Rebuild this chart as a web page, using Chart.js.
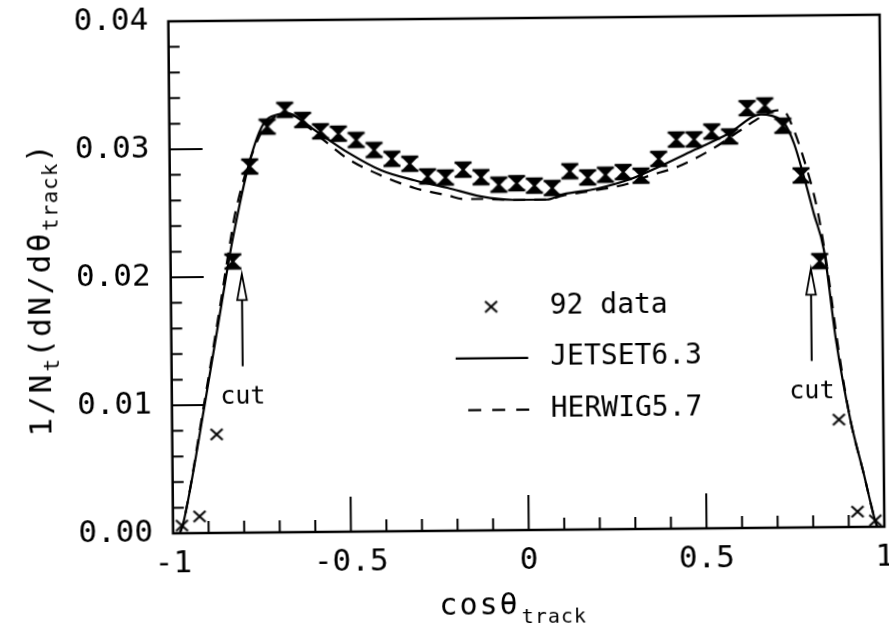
<!DOCTYPE html>
<html>
<head>
<meta charset="utf-8">
<script src="https://cdn.jsdelivr.net/npm/chart.js@4.4.1/dist/chart.umd.min.js"></script>
<style>
  html, body { margin: 0; padding: 0; background: #fff; overflow: hidden; }
  #wrap {
    position: absolute; left: 0; top: 0; width: 889px; height: 629px;
    transform: rotate(-0.535deg); transform-origin: 529.7px 274px;
  }
  canvas { display: block; }
</style>
</head>
<body>
<div id="wrap"><canvas id="c" width="889" height="629"></canvas></div>
<script>
// cos(theta_track) bin centres and measured 92 data
const cosBins = [
  -0.975, -0.925, -0.875, -0.825, -0.775, -0.725, -0.675, -0.625, -0.575, -0.525,
  -0.475, -0.425, -0.375, -0.325, -0.275, -0.225, -0.175, -0.125, -0.075, -0.025,
   0.025,  0.075,  0.125,  0.175,  0.225,  0.275,  0.325,  0.375,  0.425,  0.475,
   0.525,  0.575,  0.625,  0.675,  0.725,  0.775,  0.825,  0.875,  0.925,  0.975
];
const data92 = [
  0.0006, 0.0013, 0.0077, 0.0212, 0.0286, 0.0317, 0.0330, 0.0322, 0.0313, 0.0311,
  0.0306, 0.0298, 0.0291, 0.0287, 0.0277, 0.0276, 0.0282, 0.0276, 0.0270, 0.0271,
  0.0269, 0.0267, 0.0280, 0.0275, 0.0277, 0.0279, 0.0276, 0.0289, 0.0304, 0.0304,
  0.0310, 0.0306, 0.0328, 0.0330, 0.0314, 0.0275, 0.0208, 0.0084, 0.0012, 0.0005
];

// JETSET 6.3 prediction
const jetsetX = [
  -0.981, -0.971, -0.908, -0.859, -0.825, -0.776, -0.738, -0.701, -0.664, -0.617,
  -0.571, -0.497, -0.405, -0.312, -0.220, -0.127, -0.034, 0.059, 0.105, 0.198,
   0.291,  0.385,  0.478,  0.571,  0.664,  0.692,  0.729, 0.756, 0.783, 0.810,
   0.837,  0.869,  0.907,  0.943,  0.974,  0.980
];
const jetsetY = [
  0.0000, 0.0008, 0.0100, 0.0177, 0.0229, 0.0289, 0.0318, 0.0326, 0.0327, 0.0319,
  0.0310, 0.0296, 0.0282, 0.0274, 0.0268, 0.0261, 0.0258, 0.0258, 0.0262, 0.0266,
  0.0273, 0.0284, 0.0296, 0.0308, 0.0323, 0.0322, 0.0316, 0.0300, 0.0274, 0.0245,
  0.0217, 0.0146, 0.0084, 0.0042, 0.0005, 0.0000
];

// HERWIG 5.7 prediction
const herwigX = [
  -0.981, -0.971, -0.910, -0.862, -0.830, -0.815, -0.748, -0.701, -0.664, -0.617,
  -0.553, -0.497, -0.405, -0.312, -0.219, -0.172, -0.127, -0.034, 0.059, 0.105,
   0.198,  0.291,  0.338,  0.431,  0.524,  0.618,  0.664,  0.711, 0.730, 0.748,
   0.784,  0.820,  0.845,  0.875,  0.907,  0.943,  0.974,  0.980
];
const herwigY = [
  0.0000, 0.0008, 0.0100, 0.0177, 0.0230, 0.0252, 0.0309, 0.0325, 0.0327, 0.0318,
  0.0303, 0.0291, 0.0278, 0.0268, 0.0262, 0.0259, 0.0259, 0.0258, 0.0258, 0.0261,
  0.0265, 0.0270, 0.0275, 0.0283, 0.0296, 0.0313, 0.0321, 0.0326, 0.0325, 0.0316,
  0.0287, 0.0248, 0.0205, 0.0140, 0.0084, 0.0042, 0.0005, 0.0000
];

// axis ticks
const xTickValues = [-1, -0.5, 0, 0.5, 1];
const xTickLabels = ['-1', '-0.5', '0', '0.5', '1'];
const yTickValues = [0, 0.01, 0.02, 0.03, 0.04];
const yTickLabels = ['0.00', '0.01', '0.02', '0.03', '0.04'];
const xMinorStep = 0.1;
const yMinorStep = 0.002;

// acceptance cut annotation
const cutPositions = [-0.8, 0.8];
const cutArrowFrom = 0.013;
const cutArrowTo = 0.0202;
const cutLabelBaseline = 0.0101;

const FONT = "'DejaVu Sans Mono', monospace";

// marker: cross with error-bar caps (hourglass)
function makeHourglass() {
  const c = document.createElement('canvas');
  c.width = 22; c.height = 20;
  const g = c.getContext('2d');
  g.translate(11, 10);
  g.fillStyle = '#000'; g.strokeStyle = '#000';
  g.beginPath();
  g.moveTo(-7, -7); g.lineTo(7, -7);
  g.quadraticCurveTo(1.5, -2, 0, 0);
  g.quadraticCurveTo(-1.5, -2, -7, -7);
  g.moveTo(-7, 7); g.lineTo(7, 7);
  g.quadraticCurveTo(1.5, 2, 0, 0);
  g.quadraticCurveTo(-1.5, 2, -7, 7);
  g.fill();
  g.lineWidth = 2.6;
  g.beginPath();
  g.moveTo(-8.5, -7); g.lineTo(8.5, -7);
  g.moveTo(-8.5, 7); g.lineTo(8.5, 7);
  g.stroke();
  g.lineWidth = 2.2;
  g.beginPath();
  g.moveTo(-7, -7); g.lineTo(7, 7);
  g.moveTo(7, -7); g.lineTo(-7, 7);
  g.stroke();
  return c;
}
function makeCross() {
  const c = document.createElement('canvas');
  c.width = 16; c.height = 16;
  const g = c.getContext('2d');
  g.translate(8, 8);
  g.strokeStyle = '#000'; g.lineWidth = 2.1;
  g.beginPath();
  g.moveTo(-6, -5.5); g.lineTo(6, 5.5);
  g.moveTo(6, -5.5); g.lineTo(-6, 5.5);
  g.stroke();
  return c;
}
const hourglass = makeHourglass();
const cross = makeCross();
const pointStyles = cosBins.map((c, i) => (i < 3 || i > cosBins.length - 4) ? cross : hourglass);

const toXY = (xs, ys) => xs.map((x, i) => ({ x: x, y: ys[i] }));

const framePlugin = {
  id: 'frameAndNotes',
  afterDraw(chart) {
    const { ctx, chartArea: a, scales } = chart;
    const sx = scales.x, sy = scales.y;
    ctx.save();
    ctx.strokeStyle = '#000';
    ctx.fillStyle = '#000';

    // frame
    ctx.lineWidth = 2.5;
    ctx.strokeRect(a.left, a.top, a.right - a.left, a.bottom - a.top);

    // inward ticks
    ctx.lineWidth = 2;
    ctx.beginPath();
    const nx = Math.round((sx.max - sx.min) / xMinorStep);
    for (let i = 1; i < nx; i++) {
      const v = sx.min + i * xMinorStep;
      const px = sx.getPixelForValue(v);
      const major = xTickValues.some(t => Math.abs(t - v) < 1e-6);
      ctx.moveTo(px, a.bottom);
      ctx.lineTo(px, a.bottom - (major ? 35 : 12));
    }
    const ny = Math.round((sy.max - sy.min) / yMinorStep);
    for (let i = 1; i < ny; i++) {
      const v = sy.min + i * yMinorStep;
      const py = sy.getPixelForValue(v);
      const major = yTickValues.some(t => Math.abs(t - v) < 1e-7);
      ctx.moveTo(a.left, py);
      ctx.lineTo(a.left + (major ? 33 : 11), py);
    }
    ctx.stroke();

    // cut arrows with open heads
    cutPositions.forEach(c => {
      const px = sx.getPixelForValue(c);
      const yb = sy.getPixelForValue(cutArrowFrom);
      const yt = sy.getPixelForValue(cutArrowTo);
      const headH = 26, headW = 4.8;
      ctx.lineWidth = 2;
      ctx.beginPath();
      ctx.moveTo(px, yb);
      ctx.lineTo(px, yt + headH);
      ctx.stroke();
      ctx.lineWidth = 1.8;
      ctx.beginPath();
      ctx.moveTo(px, yt);
      ctx.lineTo(px + headW, yt + headH);
      ctx.lineTo(px - headW, yt + headH);
      ctx.closePath();
      ctx.fillStyle = '#fff';
      ctx.fill();
      ctx.stroke();
      ctx.fillStyle = '#000';
      ctx.font = '25px ' + FONT;
      ctx.textAlign = 'center';
      ctx.textBaseline = 'alphabetic';
      ctx.fillText('cut', px, sy.getPixelForValue(cutLabelBaseline));
    });

    // legend
    const ds = chart.data.datasets;
    const lx = sx.getPixelForValue(0.065);
    const rows = [sy.getPixelForValue(0.01747), sy.getPixelForValue(0.01344), sy.getPixelForValue(0.0094)];
    ctx.font = '28px ' + FONT;
    ctx.textAlign = 'left';
    ctx.textBaseline = 'middle';
    ctx.drawImage(cross, sx.getPixelForValue(-0.1) - cross.width / 2, rows[0] - cross.height / 2);
    ctx.fillText(ds[0].label, lx, rows[0]);
    ctx.lineWidth = 2.2;
    ctx.beginPath();
    ctx.moveTo(sx.getPixelForValue(-0.201), rows[1]);
    ctx.lineTo(sx.getPixelForValue(0.003), rows[1]);
    ctx.stroke();
    ctx.fillText(ds[1].label, lx, rows[1]);
    ctx.setLineDash([13, 11]);
    ctx.beginPath();
    ctx.moveTo(sx.getPixelForValue(-0.167), rows[2]);
    ctx.lineTo(sx.getPixelForValue(0.005), rows[2]);
    ctx.stroke();
    ctx.setLineDash([]);
    ctx.fillText(ds[2].label, lx, rows[2]);

    // x axis title: cosθ with subscript "track"
    ctx.textBaseline = 'alphabetic';
    ctx.textAlign = 'left';
    ctx.letterSpacing = '2px';
    ctx.font = '30px ' + FONT;
    const xt0 = (a.left + a.right) / 2 - 90;
    ctx.fillText('cosθ', xt0, 614);
    const w1 = ctx.measureText('cosθ').width;
    ctx.letterSpacing = '1px';
    ctx.font = '20px ' + FONT;
    ctx.fillText('track', xt0 + w1 + 2, 623);

    // y axis title: 1/N_t (dN/dθ_track)
    ctx.save();
    ctx.translate(50, 432);
    ctx.rotate(-Math.PI / 2);
    let cx = 0;
    const seg = (t, size, dy, sp) => {
      ctx.font = size + 'px ' + FONT;
      ctx.letterSpacing = sp + 'px';
      ctx.fillText(t, cx, dy);
      cx += ctx.measureText(t).width;
    };
    seg('1/N', 31, 0, 3);
    seg('t', 21, 8, 1);
    seg('(dN/dθ', 31, 0, 2.5);
    seg('track', 21, 8, 1);
    seg(')', 31, 0, 2);
    ctx.restore();

    ctx.restore();
  }
};

new Chart(document.getElementById('c'), {
  type: 'scatter',
  data: {
    datasets: [
      {
        label: '92 data',
        data: toXY(cosBins, data92),
        showLine: false,
        pointStyle: pointStyles,
        pointRadius: 6,
        clip: false
      },
      {
        label: 'JETSET6.3',
        data: toXY(jetsetX, jetsetY),
        showLine: true,
        borderColor: '#000',
        borderWidth: 2.2,
        pointRadius: 0,
        fill: false,
        cubicInterpolationMode: 'monotone'
      },
      {
        label: 'HERWIG5.7',
        data: toXY(herwigX, herwigY),
        showLine: true,
        borderColor: '#000',
        borderWidth: 2.2,
        borderDash: [12, 9],
        pointRadius: 0,
        fill: false,
        cubicInterpolationMode: 'monotone'
      }
    ]
  },
  options: {
    responsive: false,
    animation: false,
    devicePixelRatio: 1,
    layout: { padding: { left: 0, right: 0.3, top: 18, bottom: 0 } },
    plugins: { legend: { display: false }, tooltip: { enabled: false } },
    scales: {
      x: {
        type: 'linear', min: -1, max: 1,
        grid: { display: false, drawTicks: false },
        border: { display: false },
        afterBuildTicks: s => { s.ticks = xTickValues.map(v => ({ value: v })); },
        afterFit: s => { s.height = 99; s.paddingLeft = 0; s.paddingRight = 0; },
        ticks: {
          color: '#000', padding: 12, maxRotation: 0, autoSkip: false,
          font: { family: FONT, size: 31 },
          callback: (v, i) => xTickLabels[i]
        }
      },
      y: {
        type: 'linear', min: 0, max: 0.04,
        grid: { display: false, drawTicks: false },
        border: { display: false },
        afterBuildTicks: s => { s.ticks = yTickValues.map(v => ({ value: v })); },
        afterFit: s => { s.width = 170.7; s.paddingTop = 0; s.paddingBottom = 0; },
        ticks: {
          color: '#000', padding: 20, autoSkip: false,
          font: { family: FONT, size: 31 },
          callback: (v, i) => yTickLabels[i]
        }
      }
    }
  },
  plugins: [framePlugin]
});
</script>
</body>
</html>
